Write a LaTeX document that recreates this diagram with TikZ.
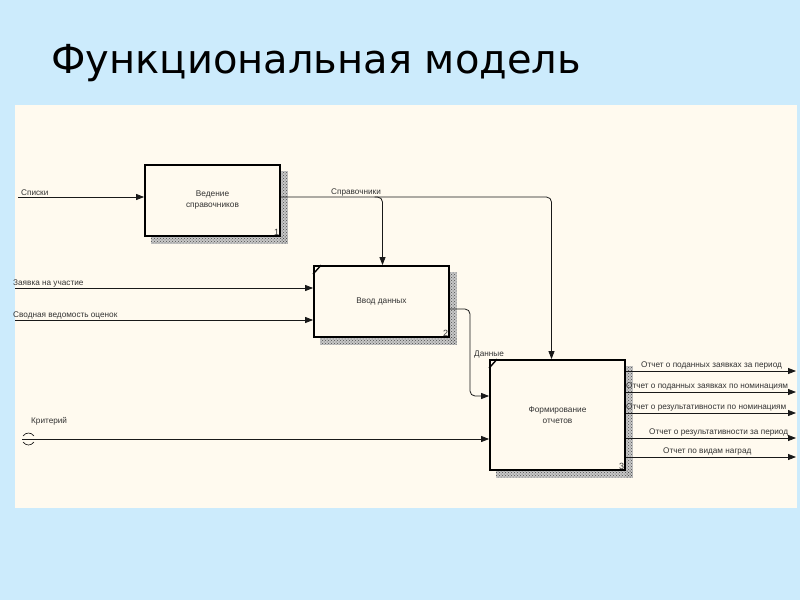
\documentclass[tikz,border=0pt]{standalone}
\usepackage{fontspec}
\setmainfont{Liberation Sans}
\newfontfamily\titlefont{DejaVu Sans}
\usetikzlibrary{arrows.meta,patterns,calc}
\definecolor{bgblue}{HTML}{CCEBFC}
\definecolor{panel}{HTML}{FFFAEF}
\definecolor{ink}{HTML}{333333}
\pgfdeclarelayer{back}
\pgfdeclarelayer{shade}
\pgfsetlayers{back,shade,main}
\tikzset{
  fn/.style={draw=black, line width=1.8pt, fill=panel, inner sep=0pt, align=center,
    font=\fontsize{8.3}{11}\selectfont, text=ink},
  lbl/.style={font=\fontsize{8.2}{9}\selectfont, text=ink, inner sep=1pt},
  num/.style={font=\fontsize{9}{9}\selectfont, text=ink, inner sep=1.5pt},
  arr/.style={-{Triangle[length=8pt,width=6pt]}, line width=0.8pt, draw=black!90},
  shdbase/.style={fill=black!22},
  shd/.style={pattern=crosshatch dots, pattern color=black!70},
  cornermark/.style={line width=1.4pt, draw=black}
}
\begin{document}
\begin{tikzpicture}[x=1pt,y=-1pt]
\begin{pgfonlayer}{back}
\fill[bgblue] (0,0) rectangle (800,600);
\fill[panel] (15,105) rectangle (797,508);
\end{pgfonlayer}
\useasboundingbox (0,0) rectangle (800,600);

\node[anchor=base west, font=\titlefont\fontsize{40}{40}\selectfont, text=black] (title) at (48,73) {Функциональная модель};

% function boxes
\node[fn, minimum width=135pt, minimum height=71pt] (b1) at (212.5,200.5) {Ведение\\справочников};
\node[fn, minimum width=135pt, minimum height=71pt] (b2) at (381.5,301.5) {Ввод данных};
\node[fn, minimum width=135pt, minimum height=110pt] (b3) at (557.5,415) {Формирование\\отчетов};

\begin{pgfonlayer}{shade}
\foreach \b in {b1,b2,b3}{
  \fill[shdbase] ($(\b.north east)+(0,7)$) rectangle ($(\b.south east)+(7,7)$);
  \fill[shdbase] ($(\b.south west)+(7,0)$) rectangle ($(\b.south east)+(7,7)$);
  \fill[shd] ($(\b.north east)+(0,7)$) rectangle ($(\b.south east)+(7,7)$);
  \fill[shd] ($(\b.south west)+(7,0)$) rectangle ($(\b.south east)+(7,7)$);
}
\end{pgfonlayer}

\node[num, anchor=south east] (n1) at (b1.south east) {1};
\node[num, anchor=south east] (n2) at (b2.south east) {2};
\node[num, anchor=south east] (n3) at (b3.south east) {3};

\draw[cornermark] ($(b2.north west)+(0,9)$) -- ($(b2.north west)+(8,0)$);
\draw[cornermark] ($(b3.north west)+(0,9)$) -- ($(b3.north west)+(8,0)$);

% coordinates for free ends and bends
\coordinate (s0) at (18,197);
\coordinate (c1) at (551.5,197);
\coordinate (c2) at (382.5,197);
\coordinate (z0) at (15,288);
\coordinate (v0) at (15,320);
\coordinate (d1) at (470,309);
\coordinate (d2) at (470,396);
\coordinate (k0) at (22,439);
\coordinate (o1) at (796,371);
\coordinate (o2) at (796,392);
\coordinate (o3) at (796,413);
\coordinate (o4) at (796,438);
\coordinate (o5) at (796,457);

% Списки
\draw[arr] (s0) -- (s0 -| b1.west);
\node[lbl, anchor=south west] (ls) at (20,197) {Списки};

% Справочники
\draw[arr, rounded corners=5pt] (s0 -| b1.east) -- (c1) -- (c1 |- b3.north);
\draw[arr, rounded corners=5pt] ($(c2)+(-8,0)$) -- (c2) -- (c2 |- b2.north);
\node[lbl, anchor=south west] (lsp) at (330,197) {Справочники};

% inputs to box 2
\draw[arr] (z0) -- (z0 -| b2.west);
\node[lbl, anchor=south west] (lz) at (12,288) {Заявка на участие};
\draw[arr] (v0) -- (v0 -| b2.west);
\node[lbl, anchor=south west] (lv) at (12,320) {Сводная ведомость оценок};

% Данные
\draw[arr, rounded corners=5pt] (d1 -| b2.east) -- (d1) -- (d2) -- (d2 -| b3.west);
\node[lbl, anchor=south west] (ld) at (473,359) {Данные};

% Критерий
\draw[arr] (k0) -- (k0 -| b3.west);
\node[lbl, anchor=south west] (lk) at (30,426) {Критерий};
\draw[line width=0.6pt] (23,436) .. controls (26,432) and (31,432) .. (34,436);
\draw[line width=0.6pt] (23,442) .. controls (26,446) and (31,446) .. (34,442);

% outputs
\draw[arr] (o1 -| b3.east) -- (o1);
\draw[arr] (o2 -| b3.east) -- (o2);
\draw[arr] (o3 -| b3.east) -- (o3);
\draw[arr] (o4 -| b3.east) -- (o4);
\draw[arr] (o5 -| b3.east) -- (o5);
\node[lbl, anchor=south west] (l1) at (640,370) {Отчет о поданных заявках за период};
\node[lbl, anchor=south west] (l2) at (625,391) {Отчет о поданных заявках по номинациям};
\node[lbl, anchor=south west] (l3) at (625,412) {Отчет о результативности по номинациям};
\node[lbl, anchor=south west] (l4) at (648,437) {Отчет о результативности за период};
\node[lbl, anchor=south west] (l5) at (662,456) {Отчет по видам наград};
\end{tikzpicture}
\end{document}
